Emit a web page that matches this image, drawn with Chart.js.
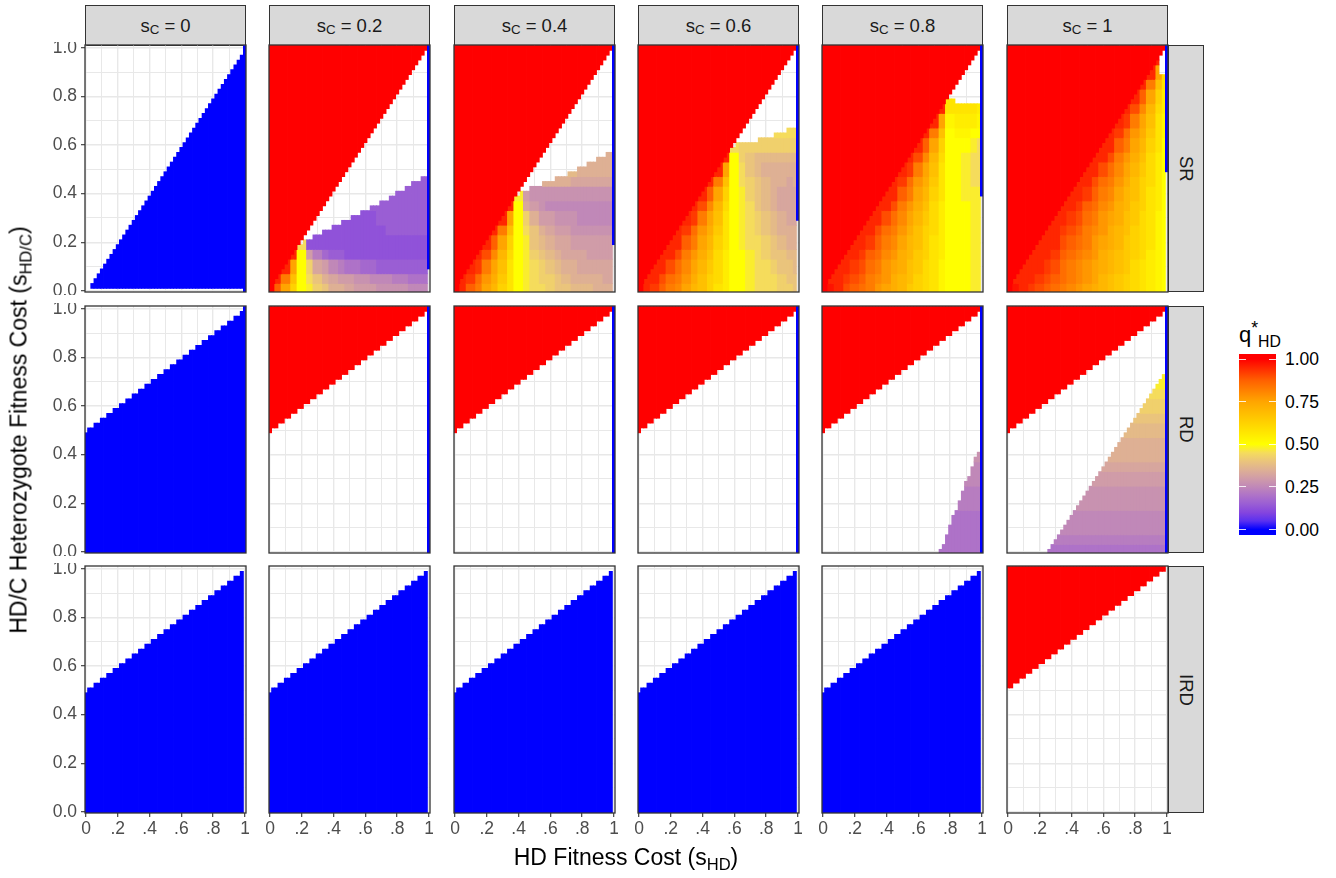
<!DOCTYPE html>
<html>
<head>
<meta charset="utf-8">
<script src="https://cdn.jsdelivr.net/npm/chart.js@4.4.1/dist/chart.umd.min.js"></script>
<style>
  body { margin: 0; background: #fff; font-family: "Liberation Sans", Arial, sans-serif; }
  #fig { position: relative; width: 1336px; height: 878px; overflow: hidden; }
  #fig canvas { position: absolute; }
  .strip { position: absolute; box-sizing: border-box; background: #D9D9D9; border: 1.3px solid #333;
           display: flex; align-items: center; justify-content: center; color: #1A1A1A; font-size: 18.5px; }
  .strip.side span { writing-mode: vertical-rl; }
  sub { font-size: 72%; vertical-align: baseline; position: relative; top: 0.32em; }
  sup { font-size: 80%; vertical-align: baseline; position: relative; top: -0.45em; }
  .title { position: absolute; white-space: nowrap; font-size: 23px; color: #000; transform: translate(-50%, -50%); }
  .legend-lab { position: absolute; font-size: 17.5px; color: #000; transform: translateY(-50%); }
</style>
</head>
<body>
<div id="fig"></div>
<script>
// ---- facet labels and axis text ----
const sCLabels = ['0', '0.2', '0.4', '0.6', '0.8', '1'];
const models = ['SR', 'RD', 'IRD'];
const xTickLabels = ['0', '.2', '.4', '.6', '.8', '1'];
const yTickLabels = ['0.0', '0.2', '0.4', '0.6', '0.8', '1.0'];
const legendBreaks = [0, 0.25, 0.5, 0.75, 1];
const legendLabels = ['0.00', '0.25', '0.50', '0.75', '1.00'];

// grid of the model runs: cell spacing in sHD and sHD/C, and spacing of the q* samples
const CELL = 0.02;
const SAMPLE = 0.05;

// ---- region edges, one entry per sHD column (row index in sHD/C steps) ----
// SR: red (q*=1) starts one row above the diagonal
const srRedFrom = [1,2,3,4,5,6,7,8,9,10,11,12,13,14,15,16,17,18,19,20,21,22,23,24,25,26,27,28,29,30,31,32,33,34,35,36,37,38,39,40,41,42,43,44,45,46,47,48,49,50];
// SR, sC = 0: top of the blue triangle
const sr0BlueTop = [-1,0,1,2,3,4,5,6,7,8,9,10,11,12,13,14,15,16,17,18,19,20,21,22,23,24,25,26,27,28,29,30,31,32,33,34,35,36,37,38,39,40,41,42,43,44,45,46,47,48];
// SR: first row of the blue sHD = 1 column, per sC
const srBlueColFrom = [0, 5, 10, 15, 20, 25];
// SR: top of the coloured (0 < q* < 1) region, per sC
const sr02Top = [0,1,2,3,4,5,6,7,8,9,9,10,10,10,11,11,11,12,12,12,13,13,13,14,14,14,15,15,15,16,16,16,17,17,17,18,18,18,19,19,20,20,20,21,21,22,22,22,23,23];
const sr04Top = [0,1,2,3,4,5,6,7,8,9,10,11,12,13,14,15,16,17,18,19,19,20,20,20,21,21,21,21,22,22,22,22,23,23,23,23,24,24,24,25,25,25,26,26,26,27,27,27,28,28];
const sr06Top = [0,1,2,3,4,5,6,7,8,9,10,11,12,13,14,15,16,17,18,19,20,21,22,23,24,25,26,27,28,29,29,30,30,30,30,30,30,30,31,31,31,31,31,32,32,32,32,33,33,33];
const sr08Top = [0,1,2,3,4,5,6,7,8,9,10,11,12,13,14,15,16,17,18,19,20,21,22,23,24,25,26,27,28,29,30,31,32,33,34,35,36,37,38,39,39,39,38,38,38,38,38,38,38,38];
const sr1Top  = [0,1,2,3,4,5,6,7,8,9,10,11,12,13,14,15,16,17,18,19,20,21,22,23,24,25,26,27,28,29,30,31,32,33,34,35,36,37,38,39,40,41,42,43,44,45,46,47,44,44];
// RD / IRD: edge between the blue lower part and the upper part
const rdBlueTop = [24,25,25,26,26,27,27,28,28,29,29,30,30,31,31,32,32,33,33,34,34,35,35,36,36,37,37,38,38,39,39,40,40,41,41,42,42,43,43,44,44,45,45,46,46,47,47,48,48,49];
const rdRedFrom = [25,26,26,27,27,28,28,29,29,30,30,31,31,32,32,33,33,34,34,35,35,36,36,37,37,38,38,39,39,40,40,41,41,42,42,43,43,44,44,45,45,46,46,47,47,48,48,49,49,50];
const irdRedFrom = [26,26,27,27,28,28,29,29,30,30,31,31,32,32,33,33,34,34,35,35,36,36,37,37,38,38,39,39,40,40,41,41,42,42,43,43,44,44,45,45,46,46,47,47,48,48,49,49,50,50];
// RD coloured wedges (columns 37..49 and 13..49)
const rd08Top = [0,1,3,5,7,8,10,12,14,15,17,19,20];
const rd1Top = [0,1,2,3,4,5,6,7,8,9,10,11,12,13,14,15,16,17,18,19,20,21,22,23,24,25,26,27,28,29,30,31,32,33,34,35,36];

// ---- q* every 0.05 (row = sHD/C from 0 upward, char = sHD from 0 to 1) ----
// code: '0'..'e' = 0, 0.025, ..., 1 ; '.' = outside the coloured region
const Q_CODES = '0123456789ABCDEFGHIJKLMNOPQRSTUVWXYZabcde';
const sr02Grid = [
  'eZUPKJHGEEDCCCBBBBAAA',
  '.cXRKIGEDCCBBAAA99888',
  '..cUKHDCA988776666666',
  '...cKC976655555555555',
  '....I5555555555555555',
  '.....5555555555666666',
  '.....5555555556666666',
  '.....5555555566666666',
  '.....5555555566666666',
  '.....5555555566666666'
];
const sr04Grid = [
  'ecZXUSPNKJIIHGGFFFEEE',
  '.cbYVTQNKJIHHGFEEEEDD',
  '..cbXURNKJIHGFEEDDDDD',
  '...caWSOKJHGFEDDDCCCC',
  '....cZUPKJGFEDDCCCCCC',
  '.....cXRKIGEDCCBBBBBB',
  '......cUKHECCBBBAAAAA',
  '.......cKDCBAAAAAAAAA',
  '........JCBBBBBBBBBBB',
  '.........FFEEEEDDDDDD',
  '..........FFFFFFEEEEE',
  '...........EEEEEEEEEE'
];
const sr06Grid = [
  'ecbZXWUSRPNMKKJIIIHHG',
  '.ccaYXVTRPOMKKJIIIHGG',
  '..ccaYWUSQOMKKJIIHGGF',
  '...ccaXVTROMKKJIHGGFF',
  '....ccZXUSPNKJIIHGFEE',
  '.....cbYVTQNKJIHGFEEE',
  '......cbXURNKJIHGFEDD',
  '.......caWSOKJIGFEDDD',
  '........cZUPKJHGFEDDD',
  '.........cXRKIHGFEEDE',
  '..........cUKIGFEEEEE',
  '...........cKHGFFFFFF',
  '............IHHHHHHHH',
  '.............IIIIIIII'
];
const sr08Grid = [
  'edcaZYXVUTSQPONLKKKJJ',
  '.ccbaZXWVTSRPONLKKKJJ',
  '..ccbaYXVUTRQONLKKKJJ',
  '...ccbZYWVTSQPNMKKKJJ',
  '....ccbZXWUSRPNMKKKJJ',
  '.....ccaYXVTRPOMKKKJJ',
  '......ccaYWUSQOMKKKJJ',
  '.......ccaXVTROMKKKJJ',
  '........ccZXUSPNKKJJJ',
  '.........cbYVTQNKKJII',
  '..........cbXURNKKJII',
  '...........caWSOKKJII',
  '............cZUPKKKJI',
  '.............cXRKLLKK',
  '..............cULMMML',
  '...............cNNNNM',
  '................N....'
];
const sr1Grid = [
  'edcbaZYXWVUTSRQPONMLK',
  '.cccbaZYXWVUSRQPONMLK',
  '..cccbaYXWVUTSRQONMLK',
  '...cccbZYXWVTSRQPOMLK',
  '....cccaZYXVUTSQPONLK',
  '.....ccbaZXWVTSRPONLK',
  '......ccbaYXVUTRQONLK',
  '.......ccbZYWVTSQPNMK',
  '........ccbZXWUSRPNMK',
  '.........ccaYXVTRPOMK',
  '..........ccaYWUSQOMK',
  '...........ccaXVTROMK',
  '............ccZXUSPNK',
  '.............cbYVTQNL',
  '..............cbXURNL',
  '...............caWSOM',
  '................cZUPM',
  '.................cXRN',
  '..................cUO',
  '...................cQ'
];
const rd08Grid = [
  '...............888888',
  '...............888888',
  '...............888888',
  '...............888888',
  '...............999999',
  '...............999999',
  '...............AAAAAA',
  '...............AAAAAA',
  '...............BBBBBB'
];
const rd1Grid = [
  '.....8888888888888888',
  '.....9999999999999999',
  '.....AAAAAAAAAAAAAAAA',
  '.....AAAAAAAAAAAAAAAA',
  '.....BBBBBBBBBBBBBBBB',
  '.....BBBBBBBBBBBBBBBB',
  '.....CCCCCCCCCCCCCCCC',
  '.....DDDDDDDDDDDDDDDD',
  '.....EEEEEEEEEEEEEEEE',
  '.....EEEEEEEEEEEEEEEE',
  '.....FFFFFFFFFFFFFFFF',
  '.....GGGGGGGGGGGGGGGG',
  '.....HHHHHHHHHHHHHHHH',
  '.....IIIIIIIIIIIIIIII',
  '.....JJJJJJJJJJJJJJJJ'
];

// ---- colour scale for q* ----
const qStops  = [0, 0.05, 0.1, 0.15, 0.2, 0.25, 0.3, 0.35, 0.4, 0.45, 0.5, 0.625, 0.75, 0.875, 1];
const qColors = ['#0000FF', '#5A30F0', '#8545DE', '#9A5ED4', '#AE72C8', '#C088B8', '#D09CA8', '#DEB094',
                 '#EAC47C', '#F5DC5C', '#FFFF00', '#FFD200', '#FFA500', '#FF6000', '#FF0000'];
const stopRgb = qColors.map(h => [1, 3, 5].map(n => parseInt(h.slice(n, n + 2), 16)));

function qColor(q) {
  q = Math.max(0, Math.min(1, q));
  let k = 0;
  while (k < qStops.length - 2 && q > qStops[k + 1]) k++;
  const t = (q - qStops[k]) / (qStops[k + 1] - qStops[k]);
  const a = stopRgb[k], b = stopRgb[k + 1];
  return 'rgb(' + a.map((v, n) => Math.round(v + (b[n] - v) * t)).join(',') + ')';
}

// ---- layout ----
const PANEL_LEFT = [85, 269, 454, 638, 822, 1007];
const PANEL_TOP = [45, 306, 566];
const PANEL_W = 161, PANEL_H = 247;
const Y_AXIS_W = 85, X_AXIS_H = 36, PAD = 3;
const X_RANGE = [-0.0063, 1.0063];
const Y_RANGE = [-0.005, 1.012];

// ---- which regions each facet has ----
const srTops = [null, sr02Top, sr04Top, sr06Top, sr08Top, sr1Top];
const srGrids = [null, sr02Grid, sr04Grid, sr06Grid, sr08Grid, sr1Grid];

function panelLayers(row, k) {
  if (row === 0) {
    if (k === 0) {
      return [
        {q: 0, cols: [0, 49], from: 1, to: sr0BlueTop},
        {q: 0, cols: [50, 50], from: srBlueColFrom[0], to: 50}
      ];
    }
    return [
      {grid: srGrids[k], cols: [0, 49], from: 0, to: srTops[k]},
      {q: 1, cols: [0, 49], from: srRedFrom, to: 50},
      {q: 0, cols: [50, 50], from: srBlueColFrom[k], to: 50}
    ];
  }
  if (row === 1) {
    if (k === 0) {
      return [
        {q: 0, cols: [0, 49], from: 0, to: rdBlueTop},
        {q: 0, cols: [50, 50], from: 0, to: 50}
      ];
    }
    const layers = [];
    if (k === 4) layers.push({grid: rd08Grid, cols: [37, 49], from: 0, to: rd08Top});
    if (k === 5) layers.push({grid: rd1Grid, cols: [13, 49], from: 0, to: rd1Top});
    layers.push({q: 1, cols: [0, 49], from: rdRedFrom, to: 50});
    layers.push({q: 0, cols: [50, 50], from: 0, to: 50});
    return layers;
  }
  if (k < 5) return [{q: 0, cols: [0, 49], from: 0, to: rdBlueTop}];
  return [{q: 1, cols: [0, 49], from: irdRedFrom, to: 50}];
}

function gridQ(grid, c, r) {
  const i = Math.round(c * CELL / SAMPLE), j = Math.round(r * CELL / SAMPLE);
  const line = grid[j];
  if (!line) return null;
  const idx = Q_CODES.indexOf(line[i]);
  return idx < 0 ? null : idx / 40;
}

function buildCells(layers) {
  const cells = [], colors = [];
  const push = (c, lo, hi, q) => {
    cells.push({x: c * CELL, y: [(lo - 0.5) * CELL, (hi + 0.5) * CELL]});
    colors.push(qColor(q));
  };
  layers.forEach(L => {
    for (let c = L.cols[0]; c <= L.cols[1]; c++) {
      const n = c - L.cols[0];
      const lo = Array.isArray(L.from) ? L.from[n] : L.from;
      const hi = Array.isArray(L.to) ? L.to[n] : L.to;
      if (hi < lo) continue;
      if (!L.grid) { push(c, lo, hi, L.q); continue; }
      // runs of equal q* in this column
      let start = lo, cur = gridQ(L.grid, c, lo);
      for (let r = lo + 1; r <= hi + 1; r++) {
        const q = r <= hi ? gridQ(L.grid, c, r) : undefined;
        if (q !== cur) {
          if (cur !== null) push(c, start, r - 1, cur);
          start = r; cur = q;
        }
      }
    }
  });
  return {cells, colors};
}

const isMajor = v => Math.round(v * 10) % 2 === 0;

const panelBorder = {
  id: 'panelBorder',
  afterDraw(chart) {
    const {ctx, chartArea: a} = chart;
    ctx.save();
    ctx.strokeStyle = '#333333';
    ctx.lineWidth = 1.3;
    ctx.strokeRect(a.left, a.top, a.right - a.left, a.bottom - a.top);
    ctx.restore();
  }
};

// the panels sit on a fixed grid, so labels must not push the plot area around
function noEdgePadding(s) {
  s.paddingLeft = 0; s.paddingRight = 0; s.paddingTop = 0; s.paddingBottom = 0;
}

Chart.defaults.font.family = '"Liberation Sans", Arial, sans-serif';

const fig = document.getElementById('fig');

function makePanel(row, k) {
  const showY = k === 0, showX = row === 2;
  const leftSpace = showY ? Y_AXIS_W : PAD;
  const w = leftSpace + PANEL_W + PAD;
  const h = PAD + PANEL_H + (showX ? X_AXIS_H : PAD);
  const canvas = document.createElement('canvas');
  canvas.width = w; canvas.height = h;
  canvas.style.left = (PANEL_LEFT[k] - leftSpace) + 'px';
  canvas.style.top = (PANEL_TOP[row] - PAD) + 'px';
  canvas.style.width = w + 'px';
  canvas.style.height = h + 'px';
  fig.appendChild(canvas);

  const {cells, colors} = buildCells(panelLayers(row, k));
  const tickFont = {size: 17.5};

  new Chart(canvas, {
    type: 'bar',
    data: {
      datasets: [{
        data: cells,
        backgroundColor: colors,
        borderWidth: 0,
        barPercentage: 1,
        categoryPercentage: 1,
        inflateAmount: 0.4
      }]
    },
    options: {
      responsive: false,
      animation: false,
      events: [],
      layout: {padding: {left: showY ? 0 : PAD, right: PAD, top: PAD, bottom: showX ? 0 : PAD}},
      plugins: {legend: {display: false}, tooltip: {enabled: false}},
      scales: {
        x: {
          type: 'linear', min: X_RANGE[0], max: X_RANGE[1], offset: false,
          border: {display: false},
          grid: {
            offset: false, color: '#E8E8E8',
            lineWidth: c => (c.tick && isMajor(c.tick.value)) ? 1.4 : 1.0,
            drawTicks: showX, tickLength: 4, tickWidth: 1.1,
            tickColor: c => (c.tick && isMajor(c.tick.value)) ? '#333333' : 'rgba(0,0,0,0)'
          },
          ticks: {
            display: showX, stepSize: 0.1, includeBounds: false, maxTicksLimit: 20,
            autoSkip: false, maxRotation: 0, padding: 2, color: '#4D4D4D', font: tickFont,
            callback: v => isMajor(v) ? xTickLabels[Math.round(v * 5)] : ''
          },
          afterFit: s => { s.height = showX ? X_AXIS_H : 0; noEdgePadding(s); }
        },
        y: {
          type: 'linear', min: Y_RANGE[0], max: Y_RANGE[1],
          border: {display: false},
          grid: {
            color: '#E8E8E8',
            lineWidth: c => (c.tick && isMajor(c.tick.value)) ? 1.4 : 1.0,
            drawTicks: showY, tickLength: 4, tickWidth: 1.1,
            tickColor: c => (c.tick && isMajor(c.tick.value)) ? '#333333' : 'rgba(0,0,0,0)'
          },
          ticks: {
            display: showY, stepSize: 0.1, includeBounds: false, maxTicksLimit: 20,
            autoSkip: false, padding: 4, color: '#4D4D4D', font: tickFont,
            callback: v => isMajor(v) ? yTickLabels[Math.round(v * 5)] : ''
          },
          afterFit: s => { s.width = showY ? Y_AXIS_W : 0; noEdgePadding(s); }
        }
      }
    },
    plugins: [panelBorder]
  });
}

// strips
sCLabels.forEach((lab, k) => {
  const d = document.createElement('div');
  d.className = 'strip';
  d.style.cssText = `left:${PANEL_LEFT[k]}px;top:5px;width:${PANEL_W}px;height:41px;`;
  d.innerHTML = `s<sub>C</sub>&nbsp;=&nbsp;${lab}`;
  fig.appendChild(d);
});
models.forEach((m, r) => {
  const d = document.createElement('div');
  d.className = 'strip side';
  d.style.cssText = `left:${PANEL_LEFT[5] + PANEL_W}px;top:${PANEL_TOP[r]}px;width:36px;height:${PANEL_H}px;`;
  d.innerHTML = `<span>${m}</span>`;
  fig.appendChild(d);
});

for (let row = 0; row < 3; row++) {
  for (let k = 0; k < 6; k++) makePanel(row, k);
}

// axis titles
const yTitle = document.createElement('div');
yTitle.className = 'title';
yTitle.style.cssText = 'left:19px;top:430px;transform:translate(-50%,-50%) rotate(-90deg);';
yTitle.innerHTML = 'HD/C Heterozygote Fitness Cost (s<sub>HD/C</sub>)';
fig.appendChild(yTitle);

const xTitle = document.createElement('div');
xTitle.className = 'title';
xTitle.style.cssText = 'left:626px;top:857px;';
xTitle.innerHTML = 'HD Fitness Cost (s<sub>HD</sub>)';
fig.appendChild(xTitle);

// colour bar legend
const BAR = {left: 1239, top: 354, width: 37, height: 181, q1: 359, q0: 529.5};
const gradStops = qStops.map((q, n) => {
  const pos = (BAR.q1 - BAR.top + (1 - q) * (BAR.q0 - BAR.q1)) / BAR.height * 100;
  return `${qColors[n]} ${pos.toFixed(2)}%`;
}).reverse();
const bar = document.createElement('div');
bar.style.cssText = `position:absolute;left:${BAR.left}px;top:${BAR.top}px;width:${BAR.width}px;height:${BAR.height}px;` +
  `background:linear-gradient(to bottom, ${qColors[qColors.length - 1]} 0%, ${gradStops.join(', ')}, ${qColors[0]} 100%);`;
fig.appendChild(bar);

const legTitle = document.createElement('div');
legTitle.style.cssText = 'position:absolute;left:1239px;top:322px;font-size:22px;color:#000;white-space:nowrap;';
legTitle.innerHTML = 'q<sup>*</sup><sub>HD</sub>';
fig.appendChild(legTitle);

legendBreaks.forEach((q, n) => {
  const y = BAR.q1 + (1 - q) * (BAR.q0 - BAR.q1);
  [BAR.left, BAR.left + BAR.width - 7].forEach(x => {
    const t = document.createElement('div');
    t.style.cssText = `position:absolute;left:${x}px;top:${y - 0.5}px;width:7px;height:1px;background:rgba(255,255,255,0.85);`;
    fig.appendChild(t);
  });
  const lab = document.createElement('div');
  lab.className = 'legend-lab';
  lab.style.cssText = `left:1285px;top:${y}px;`;
  lab.textContent = legendLabels[n];
  fig.appendChild(lab);
});
</script>
</body>
</html>
